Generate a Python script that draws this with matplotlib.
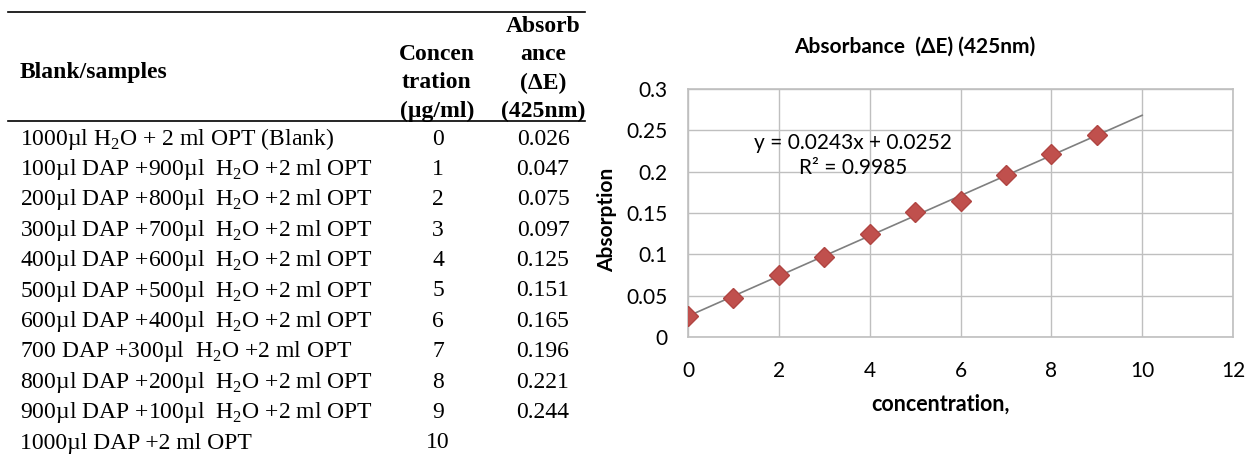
import matplotlib
matplotlib.use("Agg")
import matplotlib.pyplot as plt
import numpy as np

# table data
samples = ["1000µl H$_\\mathrm{2}$O + 2 ml OPT (Blank)",
           "100µl DAP +900µl  H$_\\mathrm{2}$O +2 ml OPT",
           "200µl DAP +800µl  H$_\\mathrm{2}$O +2 ml OPT",
           "300µl DAP +700µl  H$_\\mathrm{2}$O +2 ml OPT",
           "400µl DAP +600µl  H$_\\mathrm{2}$O +2 ml OPT",
           "500µl DAP +500µl  H$_\\mathrm{2}$O +2 ml OPT",
           "600µl DAP +400µl  H$_\\mathrm{2}$O +2 ml OPT",
           "700 DAP +300µl  H$_\\mathrm{2}$O +2 ml OPT",
           "800µl DAP +200µl  H$_\\mathrm{2}$O +2 ml OPT",
           "900µl DAP +100µl  H$_\\mathrm{2}$O +2 ml OPT",
           "1000µl DAP +2 ml OPT"]
conc_labels = ["0", "1", "2", "3", "4", "5", "6", "7", "8", "9", "10"]
abs_labels = ["0.026", "0.047", "0.075", "0.097", "0.125", "0.151",
              "0.165", "0.196", "0.221", "0.244", ""]

# chart data
conc = [0, 1, 2, 3, 4, 5, 6, 7, 8, 9]
absorb = [0.026, 0.047, 0.075, 0.097, 0.125, 0.151, 0.165, 0.196, 0.221, 0.244]
slope = 0.0243
intercept = 0.0252
r2 = 0.9985

plt.rcParams['mathtext.fontset'] = 'custom'
plt.rcParams['mathtext.rm'] = 'Liberation Serif'

W, H = 1247, 457
fig = plt.figure(figsize=(W/100, H/100), dpi=100)

def px(x, y):
    return x/W, 1 - y/H

serif = 'Liberation Serif'
fs = 17

# table rules
fig.add_artist(plt.Line2D([8/W, 585/W], [1-12/H, 1-12/H], color='black', lw=1.2))
fig.add_artist(plt.Line2D([8/W, 585/W], [1-121/H, 1-121/H], color='black', lw=1.2))

# header
fig.text(*px(20, 72), "Blank/samples", family=serif, weight='bold', fontsize=fs, va='center')
for i, t in enumerate(["Concen", "tration", "(µg/ml)"]):
    fig.text(*px(437, 55 + 28*i), t, family=serif, weight='bold', fontsize=fs,
             ha='center', va='center')
for i, t in enumerate(["Absorb", "ance", "(ΔE)", "(425nm)"]):
    fig.text(*px(543, 27 + 28*i), t, family=serif, weight='bold', fontsize=fs,
             ha='center', va='center')

# rows
for i in range(len(samples)):
    y = 139 + 30.4*i
    fig.text(*px(20, y), samples[i], family=serif, fontsize=fs, va='center')
    fig.text(*px(438, y), conc_labels[i], family=serif, fontsize=fs, ha='center', va='center')
    fig.text(*px(543, y), abs_labels[i], family=serif, fontsize=fs, ha='center', va='center')

# chart
cfont = 'Lato'
ax = fig.add_axes([688/W, 1-337/H, (1233-688)/W, (337-89)/H])
ax.set_xlim(0, 12)
ax.set_ylim(0, 0.3)
ax.set_xticks(range(0, 13, 2))
ax.set_yticks(np.arange(0, 0.31, 0.05))
ax.set_yticklabels(["0", "0.05", "0.1", "0.15", "0.2", "0.25", "0.3"])
ax.grid(True, color='#bfbfbf', lw=1)
ax.set_axisbelow(True)
for s in ax.spines.values():
    s.set_color('#bfbfbf')
    s.set_linewidth(1.2)
ax.tick_params(length=0, labelsize=15)
ax.tick_params(axis='y', pad=15)
ax.tick_params(axis='x', pad=17)
for lab in ax.get_xticklabels() + ax.get_yticklabels():
    lab.set_family(cfont)

xl = np.array([0, 10])
ax.plot(xl, slope*xl + intercept, color='#7f7f7f', lw=1.2)
ax.plot(conc, absorb, 'D', color='#c0504d', ms=10, mec='#b04542', zorder=3)

ax.text(3.63, 0.2344, "y = %.4fx + %.4f" % (slope, intercept), family=cfont,
        fontsize=15, ha='center', va='center')
ax.text(3.63, 0.204, "R² = %.4f" % r2, family=cfont,
        fontsize=15, ha='center', va='center')

fig.text(*px(915, 47), "Absorbance  (ΔE) (425nm)", family=cfont, weight='bold',
         fontsize=15, ha='center', va='center')
fig.text(*px(607, 220), "Absorption", family=cfont, weight='bold', fontsize=15,
         ha='center', va='center', rotation=90)
fig.text(*px(940, 404), "concentration,", family=cfont, weight='bold', fontsize=15.5,
         ha='center', va='center')

fig.savefig("out.png", dpi=100)
